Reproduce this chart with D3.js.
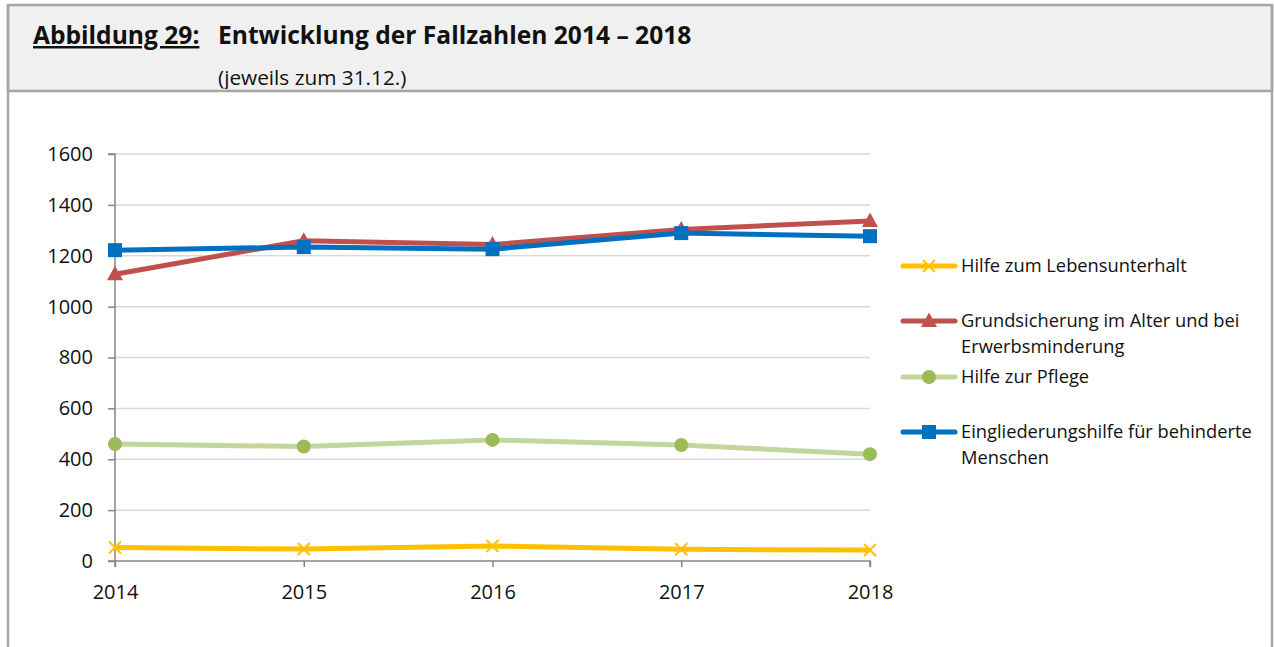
<!DOCTYPE html>
<html><head><meta charset="utf-8">
<script src="https://cdn.jsdelivr.net/npm/d3@7"></script>
<style>
html,body{margin:0;padding:0;background:#fff;}
svg{display:block;font-family:"Open Sans",sans-serif;}
</style></head>
<body><svg id="c" width="1274" height="647"></svg>
<script>
const years = ["2014","2015","2016","2017","2018"];
const yTicks = [0,200,400,600,800,1000,1200,1400,1600];
const hilfeLebensunterhalt = [53,47,59,46,43];
const grundsicherung = [1127,1259,1244,1303,1337];
const hilfePflege = [460,450,476,456,420];
const eingliederungshilfe = [1222,1234,1226,1289,1277];
const seriesNames = ["Hilfe zum Lebensunterhalt","Grundsicherung im Alter und bei Erwerbsminderung","Hilfe zur Pflege","Eingliederungshilfe für behinderte Menschen"];
const legendLines = [["Hilfe zum Lebensunterhalt"],["Grundsicherung im Alter und bei","Erwerbsminderung"],["Hilfe zur Pflege"],["Eingliederungshilfe für behinderte","Menschen"]];

const svg = d3.select("#c");
// Frame
svg.append("rect").attr("x",8).attr("y",5).attr("width",1264).attr("height",86)
  .attr("fill","#f0f0f0").attr("stroke","#a6a6a6").attr("stroke-width",2.5);
svg.append("line").attr("x1",8).attr("x2",8).attr("y1",5).attr("y2",647).attr("stroke","#a6a6a6").attr("stroke-width",2.5);
svg.append("line").attr("x1",1272).attr("x2",1272).attr("y1",5).attr("y2",647).attr("stroke","#a6a6a6").attr("stroke-width",2.5);

// Title
svg.append("text").attr("x",33).attr("y",44).attr("font-weight","bold").attr("font-size",24.6)
  .attr("fill","#111").attr("text-decoration","underline").text("Abbildung 29:");
svg.append("text").attr("x",218).attr("y",44).attr("font-weight","bold").attr("font-size",24.6)
  .attr("fill","#111").text("Entwicklung der Fallzahlen 2014 – 2018");
svg.append("clipPath").attr("id","hc").append("rect").attr("x",0).attr("y",0).attr("width",1274).attr("height",89);
svg.append("text").attr("x",218).attr("y",85).attr("font-size",20.8).attr("fill","#111")
  .attr("clip-path","url(#hc)").text("(jeweils zum 31.12.)");

const x = d3.scalePoint().domain(years).range([115,870]);
const y = d3.scaleLinear().domain([0,1600]).range([561,154]);

// gridlines
svg.append("g").selectAll("line").data(yTicks.filter(d=>d>0)).join("line")
  .attr("x1",115).attr("x2",870).attr("y1",d=>y(d)).attr("y2",d=>y(d))
  .attr("stroke","#d9d9d9").attr("stroke-width",1.5);

// axes
const ya = svg.append("g").attr("transform","translate(115,0)")
  .call(d3.axisLeft(y).tickValues(yTicks).tickSize(7).tickPadding(15).tickFormat(d3.format("d")));
const xa = svg.append("g").attr("transform","translate(0,561)")
  .call(d3.axisBottom(x).tickSize(6).tickPadding(18));
[ya,xa].forEach(a=>{
  a.select(".domain").attr("stroke","#868686").attr("stroke-width",1.5);
  a.selectAll(".tick line").attr("stroke","#868686").attr("stroke-width",1.5);
  a.selectAll("text").attr("font-family","'Open Sans',sans-serif").attr("font-size",20).attr("fill","#111");
});
xa.select(".domain").attr("d","M115,6V0H870V6");
ya.select(".domain").attr("d","M-7,154H0V561H-7");

const series = [
  {vals:hilfeLebensunterhalt, line:"#FFC000", mark:"#FFC000", type:"x"},
  {vals:grundsicherung, line:"#C0504D", mark:"#C0504D", type:"tri"},
  {vals:hilfePflege, line:"#C3D69B", mark:"#9BBB59", type:"circle"},
  {vals:eingliederungshilfe, line:"#0070C0", mark:"#0070C0", type:"square"}
];
function drawMarker(g, type, color, cx, cy){
  if(type==="x"){
    g.append("path").attr("d",`M${cx-6},${cy-6}L${cx+6},${cy+6}M${cx-6},${cy+6}L${cx+6},${cy-6}`)
      .attr("stroke",color).attr("stroke-width",2).attr("fill","none");
  } else if(type==="tri"){
    g.append("path").attr("d",`M${cx},${cy-8.5}L${cx+8},${cy+6}L${cx-8},${cy+6}Z`).attr("fill",color);
  } else if(type==="circle"){
    g.append("circle").attr("cx",cx).attr("cy",cy).attr("r",7).attr("fill",color);
  } else {
    g.append("rect").attr("x",cx-7).attr("y",cy-7).attr("width",14).attr("height",14).attr("fill",color);
  }
}
const line = d3.line().x((d,i)=>x(years[i])).y(d=>y(d));
series.forEach(s=>{
  const g = svg.append("g");
  g.append("path").datum(s.vals).attr("d",line).attr("fill","none")
    .attr("stroke",s.line).attr("stroke-width",5).attr("stroke-linejoin","round");
  s.vals.forEach((v,i)=>drawMarker(g,s.type,s.mark,x(years[i]),y(v)));
});

// legend
const legY = [266,321,377,432];
series.forEach((s,i)=>{
  const g = svg.append("g");
  g.append("line").attr("x1",903).attr("x2",955).attr("y1",legY[i]).attr("y2",legY[i])
    .attr("stroke",s.line).attr("stroke-width",5).attr("stroke-linecap","round");
  drawMarker(g,s.type,s.mark,929,legY[i]);
  legendLines[i].forEach((t,j)=>{
    g.append("text").attr("x",961).attr("y",legY[i]+6+j*26).attr("font-size",18.3).attr("fill","#111").text(t);
  });
});
</script></body></html>
